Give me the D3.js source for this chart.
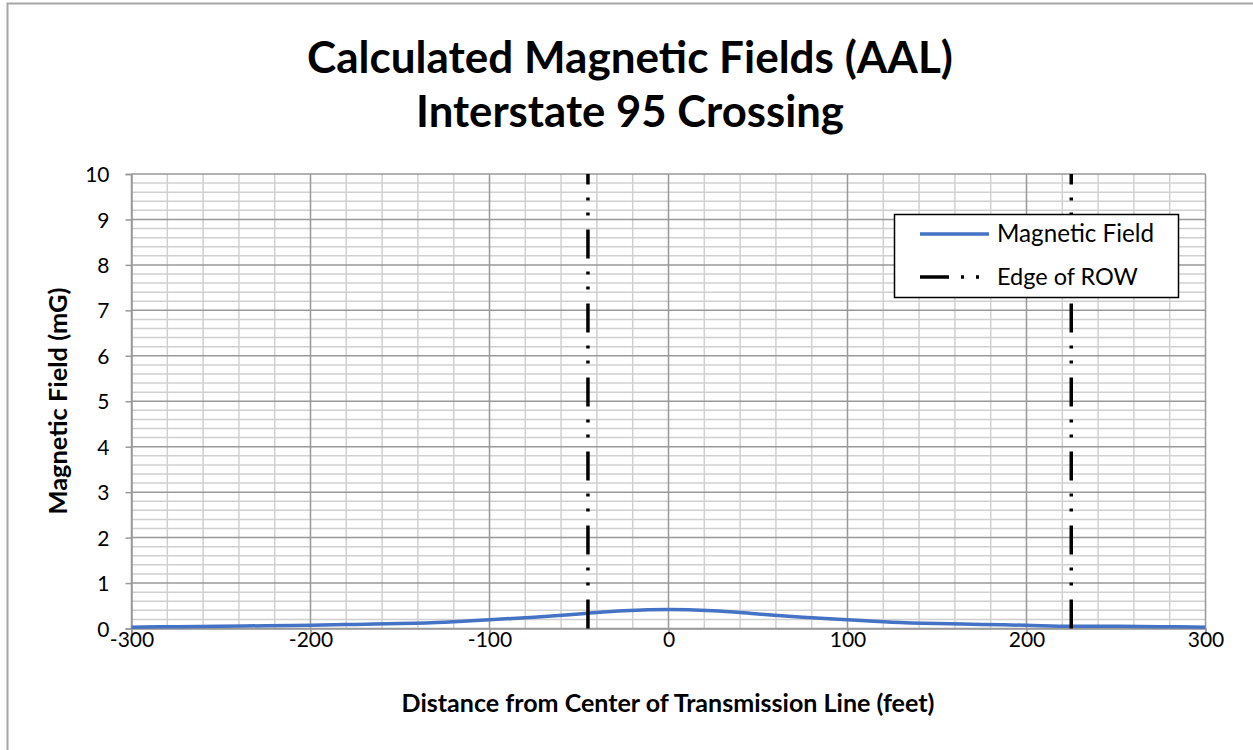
<!DOCTYPE html>
<html>
<head>
<meta charset="utf-8">
<script src="https://cdn.jsdelivr.net/npm/d3@7"></script>
<style>
  body { margin: 0; background: #fff; }
  text { font-family: Lato, "Open Sans", sans-serif; fill: #000; }
</style>
</head>
<body>
<div id="chart"></div>
<script>
// data
var distance = [-300, -275, -250, -225, -200, -175, -150, -125, -100, -75, -50, -25, 0,
                25, 50, 75, 100, 125, 150, 175, 200, 225, 250, 275, 300];
var field = [0.03, 0.04, 0.05, 0.06, 0.07, 0.09, 0.11, 0.14, 0.19, 0.25, 0.32, 0.39, 0.42,
             0.39, 0.32, 0.25, 0.19, 0.14, 0.11, 0.09, 0.07, 0.05, 0.05, 0.04, 0.03];
var rowEdges = [-45, 225];
var xTicks = [-300, -200, -100, 0, 100, 200, 300];
var yTicks = [0, 1, 2, 3, 4, 5, 6, 7, 8, 9, 10];
var titleLines = ["Calculated Magnetic Fields (AAL)", "Interstate 95 Crossing"];
var titleWidths = [646, 428];

var W = 1253, H = 750;
var svg = d3.select("#chart").append("svg")
    .attr("width", W)
    .attr("height", H);

// scale a text's font so it spans the width seen in the picture
function fitWidth(sel, target) {
  var size = parseFloat(sel.style("font-size"));
  var w = sel.node().getComputedTextLength();
  sel.style("font-size", (size * target / w) + "px");
}

// outer chart border
svg.append("rect")
    .attr("x", 7.5).attr("y", 3.5)
    .attr("width", 1270).attr("height", 770)
    .attr("fill", "none")
    .attr("stroke", "#a6a6a6")
    .attr("stroke-width", 2);

var x = d3.scaleLinear().domain([-300, 300]).range([131.5, 1205.5]);
var y = d3.scaleLinear().domain([0, 10]).range([628.5, 174]);

// gridlines, minor first then major
var minorX = d3.range(-300, 301, 20).filter(function(d) { return d % 100 !== 0; });
var minorY = d3.range(0, 10.01, 0.2).filter(function(d) { return Math.abs(d - Math.round(d)) > 0.01; });

svg.append("g").selectAll("line")
    .data(minorX)
    .enter()
    .append("line")
      .attr("x1", function(d) { return x(d); })
      .attr("x2", function(d) { return x(d); })
      .attr("y1", y(0)).attr("y2", y(10))
      .attr("stroke", "#d0d0d0").attr("stroke-width", 1.5);

svg.append("g").selectAll("line")
    .data(minorY)
    .enter()
    .append("line")
      .attr("x1", x(-300)).attr("x2", x(300))
      .attr("y1", function(d) { return y(d); })
      .attr("y2", function(d) { return y(d); })
      .attr("stroke", "#d0d0d0").attr("stroke-width", 1.5);

svg.append("g").selectAll("line")
    .data(xTicks)
    .enter()
    .append("line")
      .attr("x1", function(d) { return x(d); })
      .attr("x2", function(d) { return x(d); })
      .attr("y1", y(0)).attr("y2", y(10))
      .attr("stroke", "#999").attr("stroke-width", 1.5);

svg.append("g").selectAll("line")
    .data(yTicks)
    .enter()
    .append("line")
      .attr("x1", x(-300)).attr("x2", x(300))
      .attr("y1", function(d) { return y(d); })
      .attr("y2", function(d) { return y(d); })
      .attr("stroke", "#999").attr("stroke-width", 1.5);

// axes (plain hyphen for negatives, like the original)
var fmt = function(d) { return String(d); };
var xAxis = svg.append("g")
    .attr("transform", "translate(0," + y(0) + ")")
    .call(d3.axisBottom(x).tickValues(xTicks).tickFormat(fmt).tickSize(6));
var yAxis = svg.append("g")
    .attr("transform", "translate(" + x(-300) + ",0)")
    .call(d3.axisLeft(y).tickValues(yTicks).tickFormat(fmt).tickSize(6));

[xAxis, yAxis].forEach(function(g) {
  g.select(".domain").attr("stroke", "#999").attr("stroke-width", 1.5);
  g.selectAll(".tick line").attr("stroke", "#999").attr("stroke-width", 1.5);
  g.selectAll(".tick text")
    .style("font-family", "Lato, sans-serif")
    .style("font-size", "21px")
    .attr("fill", "#000");
});
xAxis.selectAll(".tick text").attr("y", 4).attr("dy", "0.71em");
yAxis.selectAll(".tick text").attr("x", -22).attr("dy", "0.36em");

// magnetic field curve
var line = d3.line()
    .x(function(d, i) { return x(distance[i]); })
    .y(function(d) { return y(d); })
    .curve(d3.curveCatmullRom);

svg.append("path")
    .datum(field)
    .attr("d", line)
    .attr("fill", "none")
    .attr("stroke", "#4472c4")
    .attr("stroke-width", 3.5);

// edge of ROW lines (drawn bottom to top)
var rowDash = "29,14,3,12,3,13";
svg.append("g").selectAll("line")
    .data(rowEdges)
    .enter()
    .append("line")
      .attr("x1", function(d) { return x(d); })
      .attr("x2", function(d) { return x(d); })
      .attr("y1", y(0)).attr("y2", y(10))
      .attr("stroke", "#000")
      .attr("stroke-width", 3.5)
      .attr("stroke-dasharray", rowDash);

// title
svg.append("g").selectAll("text")
    .data(titleLines)
    .enter()
    .append("text")
      .attr("x", 630)
      .attr("y", function(d, i) { return 73 + i * 54; })
      .attr("text-anchor", "middle")
      .style("font-size", "40px")
      .style("font-weight", "bold")
      .text(function(d) { return d; })
      .each(function(d, i) { fitWidth(d3.select(this), titleWidths[i]); });

// axis titles
svg.append("text")
    .attr("x", 668).attr("y", 712)
    .attr("text-anchor", "middle")
    .style("font-size", "22px")
    .style("font-weight", "bold")
    .text("Distance from Center of Transmission Line (feet)")
    .call(fitWidth, 533);

svg.append("text")
    .attr("transform", "translate(67,401) rotate(-90)")
    .attr("text-anchor", "middle")
    .style("font-size", "22px")
    .style("font-weight", "bold")
    .text("Magnetic Field (mG)")
    .call(fitWidth, 227);

// legend
var legend = svg.append("g");
legend.append("rect")
    .attr("x", 894.5).attr("y", 214.5)
    .attr("width", 284).attr("height", 83)
    .attr("fill", "#fff")
    .attr("stroke", "#000")
    .attr("stroke-width", 1.5);

legend.append("line")
    .attr("x1", 920).attr("x2", 989)
    .attr("y1", 234).attr("y2", 234)
    .attr("stroke", "#4472c4").attr("stroke-width", 3.5);
legend.append("line")
    .attr("x1", 920).attr("x2", 989)
    .attr("y1", 277).attr("y2", 277)
    .attr("stroke", "#000").attr("stroke-width", 3.5)
    .attr("stroke-dasharray", "29,12,3,12,3,13");

legend.append("text")
    .attr("x", 997).attr("y", 242)
    .style("font-size", "22px")
    .text("Magnetic Field")
    .call(fitWidth, 157);
legend.append("text")
    .attr("x", 997).attr("y", 285)
    .style("font-size", "22px")
    .text("Edge of ROW")
    .call(fitWidth, 141);
</script>
</body>
</html>
